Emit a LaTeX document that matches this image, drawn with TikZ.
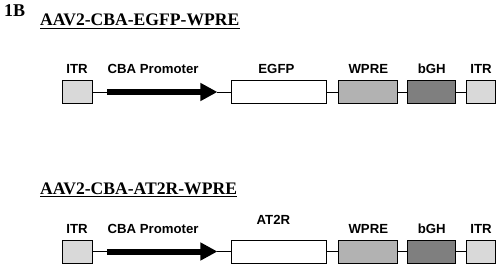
\documentclass[tikz,border=0pt]{standalone}
\usepackage{fontspec}
\setmainfont{Liberation Serif}
\setsansfont{Liberation Sans}
\usetikzlibrary{arrows.meta,positioning}
\definecolor{itrgray}{HTML}{D9D9D9}
\definecolor{wpregray}{HTML}{B2B2B2}
\definecolor{bghgray}{HTML}{7F7F7F}

\begin{document}
\begin{tikzpicture}[x=1pt,y=1pt,
 box/.style={draw,line width=0.9pt,minimum height=23pt,inner sep=0pt},
 lbl/.style={font=\sffamily\bfseries\fontsize{13.2}{15}\selectfont,inner sep=0pt,text depth=0pt},
 ttl/.style={font=\rmfamily\bfseries\fontsize{17.6}{20}\selectfont,inner sep=0pt,text depth=0pt,anchor=base west},
 uline/.style={line width=1.2pt},
 link/.style={line width=0.9pt},
 prom/.style={line width=6pt,-{Triangle[length=17pt,width=17pt]}}]
\useasboundingbox (0,0) rectangle (498,268);
\node[ttl,font=\rmfamily\bfseries\fontsize{18}{20}\selectfont](fig) at (4,251){1B};
% construct 1: EGFP
\node[ttl](tA) at (40,242){AAV2-CBA-EGFP-WPRE};
\draw[uline]([yshift=-2.5pt]tA.base west)--([yshift=-2.5pt]tA.base east);
\node[box,fill=itrgray,minimum width=30pt](itrA) at (77,176){};
\coordinate[right=15pt of itrA](cbaA);
\coordinate[right=110pt of cbaA](tipA);
\node[box,fill=white,minimum width=95pt,right=14pt of tipA](egfpA){};
\node[box,fill=wpregray,minimum width=59pt,right=11pt of egfpA](wpreA){};
\node[box,fill=bghgray,minimum width=48pt,right=9pt of wpreA](bghA){};
\node[box,fill=itrgray,minimum width=29pt,right=10pt of bghA](itrAr){};
\node[lbl,above=6pt of itrA](litrA){ITR};
\node[lbl,above right=18pt and 0pt of cbaA](lcbaA){CBA Promoter};
\node[lbl,above=6pt of egfpA,xshift=-3pt](legfpA){EGFP};
\node[lbl,above=6pt of wpreA](lwpreA){WPRE};
\node[lbl,above=6pt of bghA](lbghA){bGH};
\node[lbl,above=6pt of itrAr](litrAr){ITR};
\draw[link](itrA)--(cbaA);\draw[prom](cbaA)--(tipA);\draw[link](tipA)--(egfpA);\draw[link](egfpA)--(wpreA);\draw[link](wpreA)--(bghA);\draw[link](bghA)--(itrAr);
% construct 2: AT2R
\node[ttl](tB) at (40,74){AAV2-CBA-AT2R-WPRE};
\draw[uline]([yshift=-2.5pt]tB.base west)--([yshift=-2.5pt]tB.base east);
\node[box,fill=itrgray,minimum width=30pt](itrB) at (77,16.5){};
\coordinate[right=15pt of itrB](cbaB);
\coordinate[right=110pt of cbaB](tipB);
\node[box,fill=white,minimum width=95pt,right=14pt of tipB](at2rB){};
\node[box,fill=wpregray,minimum width=59pt,right=11pt of at2rB](wpreB){};
\node[box,fill=bghgray,minimum width=48pt,right=9pt of wpreB](bghB){};
\node[box,fill=itrgray,minimum width=29pt,right=10pt of bghB](itrBr){};
\node[lbl,above=6pt of itrB](litrB){ITR};
\node[lbl,above right=18pt and 0pt of cbaB](lcbaB){CBA Promoter};
\node[lbl,above=15pt of at2rB,xshift=-6pt](lat2rB){AT2R};
\node[lbl,above=6pt of wpreB](lwpreB){WPRE};
\node[lbl,above=6pt of bghB](lbghB){bGH};
\node[lbl,above=6pt of itrBr](litrBr){ITR};
\draw[link](itrB)--(cbaB);\draw[prom](cbaB)--(tipB);\draw[link](tipB)--(at2rB);\draw[link](at2rB)--(wpreB);\draw[link](wpreB)--(bghB);\draw[link](bghB)--(itrBr);
\end{tikzpicture}
\end{document}
